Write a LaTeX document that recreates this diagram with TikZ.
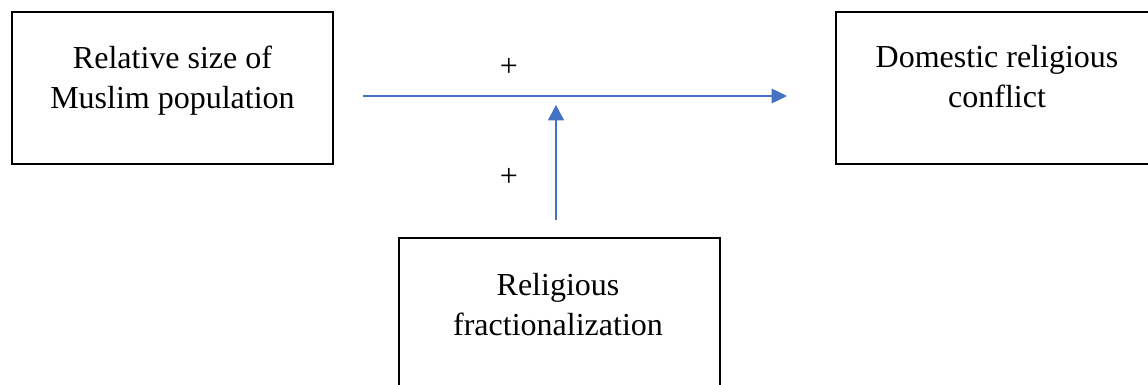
\documentclass[tikz,border=0pt]{standalone}
\usepackage{fontspec}
\setmainfont{Liberation Serif}
\usetikzlibrary{arrows.meta}
\definecolor{linkblue}{HTML}{4472C4}
\tikzset{
  box/.style={draw, line width=1.5pt, minimum width=240.75pt, minimum height=114pt, inner sep=0pt},
  txt/.style={align=center, font=\fontsize{24}{30}\selectfont, inner sep=0pt}
}

\begin{document}
\begin{tikzpicture}[x=0.75pt,y=-0.75pt]
\useasboundingbox (0,0) rectangle (1148,385);
\clip (0,0) rectangle (1148,385);

\node[box] (B1) at (172.5,88) {};
\node[box] (B2) at (996.5,88) {};
\node[box] (B3) at (559,314) {};

\node[txt, anchor=north] (T1) at (172.5,46) {Relative size of\\Muslim population};
\node[txt, anchor=north] (T2) at (997,45) {Domestic religious\\conflict};
\node[txt, anchor=north] (T3) at (558,273) {Religious\\fractionalization};

\coordinate (C1) at (363,96);
\coordinate (C2) at (787,96);
\coordinate (C3) at (556,220);
\coordinate (C4) at (556,105);

\path[-{Triangle[length=11.5pt,width=11pt]}, linkblue, line width=1pt] (C1) edge [] node[]{} (C2);
\path[-{Triangle[length=11.5pt,width=12pt]}, linkblue, line width=1pt] (C3) edge [] node[]{} (C4);

\node[txt] (P1) at (509,67) {+};
\node[txt] (P2) at (509,177) {+};
\end{tikzpicture}
\end{document}
